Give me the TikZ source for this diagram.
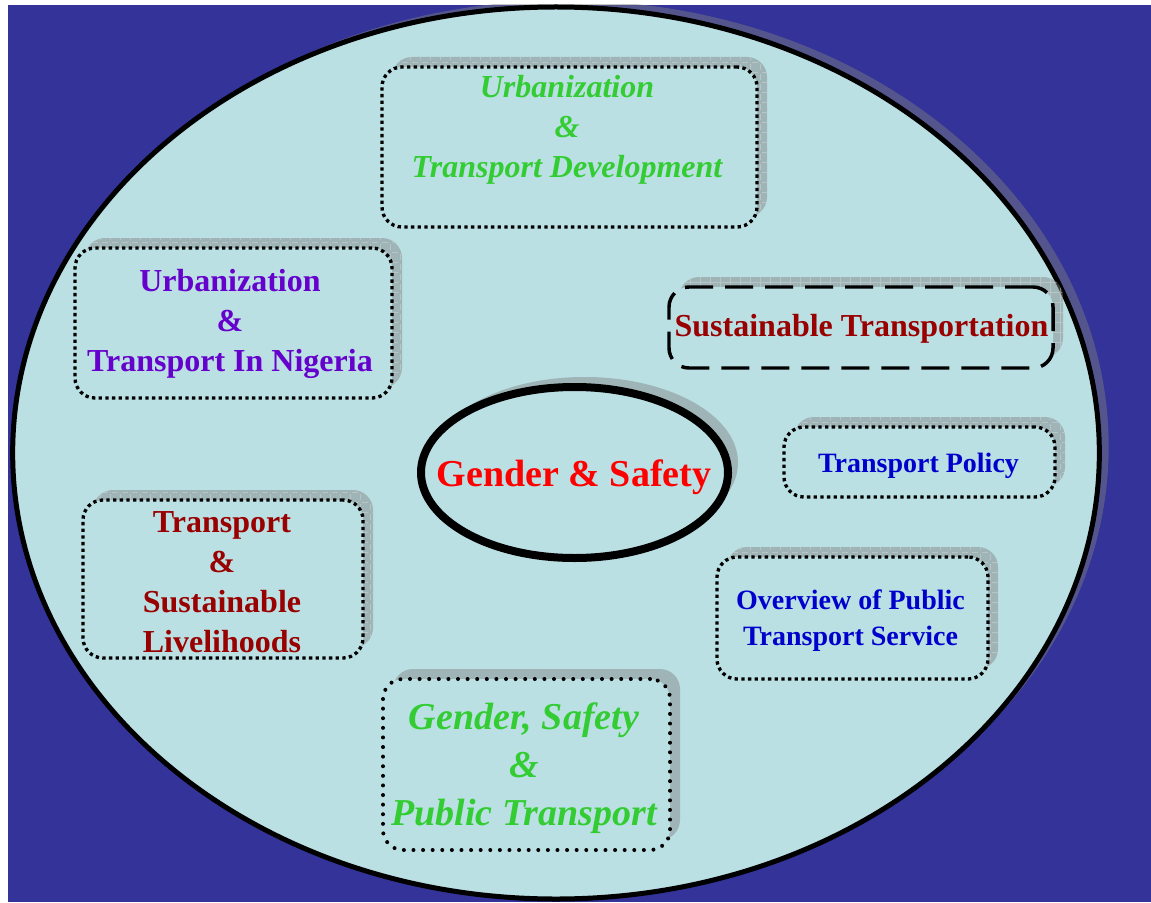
\documentclass[tikz,border=0pt]{standalone}
\usepackage{fontspec}
\setmainfont{Liberation Serif}
\usetikzlibrary{shapes.geometric,shadows,patterns.meta}

\definecolor{bgblue}{RGB}{51,51,153}
\definecolor{pale}{RGB}{186,224,228}
\definecolor{txtgreen}{RGB}{51,204,51}
\definecolor{txtpurple}{RGB}{102,0,204}
\definecolor{txtred}{RGB}{153,0,0}
\definecolor{txtblue}{RGB}{0,0,204}

\tikzset{
  boxshadow/.style={drop shadow={shadow xshift=7.5pt, shadow yshift=7.5pt, fill=gray, opacity=0.45,
      postaction={pattern={Hatch[distance=7.5pt, line width=0.3pt]}, pattern color=white!70!gray}}},
  topic/.style={draw, fill=pale, rounded corners=15pt, inner sep=0pt, line width=2.5pt,
      dash pattern=on 2.5pt off 2.5pt, boxshadow},
  beads/.style={topic, line width=3pt, line cap=round, dash pattern=on 0pt off 7.2pt},
  longdash/.style={topic, line width=2.6pt, dash pattern=on 21pt off 9pt},
  label/.style={align=center, font=\bfseries\fontsize{24}{30}\selectfont},
}

\begin{document}
\begin{tikzpicture}[x=0.75pt,y=0.75pt,yscale=-1,xscale=1]
\useasboundingbox (0,0) rectangle (1151,902);
\fill[white] (0,0) rectangle (1151,902);
\fill[bgblue] (8,5) rectangle (1151,902);

\begin{scope}
\clip (8,5) rectangle (1151,902);
%Shape: big ellipse
\node (world) [ellipse, draw, fill=pale, line width=3.75pt, inner sep=0pt, minimum width=815pt, minimum height=669pt,
  drop shadow={shadow xshift=7pt, shadow yshift=5pt, fill=gray, opacity=0.45}] at (556,453) {};
\end{scope}

%Shape: boxes round the centre
\node (urbdev) [topic, minimum width=281.25pt, minimum height=120pt] at (569.5,147) {};
\node (urbnig) [topic, minimum width=237.75pt, minimum height=112.5pt] at (233.5,323) {};
\node (sustr) [longdash, minimum width=288pt, minimum height=60.75pt] at (861,327.5) {};
\node (policy) [topic, minimum width=203.25pt, minimum height=52.5pt] at (919.5,462) {};
\node (pubserv) [topic, minimum width=203.25pt, minimum height=91.5pt] at (852.5,618) {};
\node (livelih) [topic, minimum width=210pt, minimum height=118.5pt] at (223,579) {};
\node (gsp) [beads, minimum width=215.25pt, minimum height=128.25pt] at (526.5,764.5) {};

%Shape: centre ellipse
\node (core) [ellipse, draw, fill=pale, line width=6pt, inner sep=0pt, minimum width=230.25pt, minimum height=128.25pt,
  drop shadow={shadow xshift=7.5pt, shadow yshift=7.5pt, fill=gray, opacity=0.45}] at (574.5,472.5) {};

% Text Node
\node (urbdevtxt) [label, text=txtgreen, font=\bfseries\itshape\fontsize{24}{30}\selectfont] at (567,130) {Urbanization\\\&\\Transport Development};
% Text Node
\node (urbnigtxt) [label, text=txtpurple] at (230,324) {Urbanization\\\&\\Transport In Nigeria};
% Text Node
\node (sustrtxt) [label, text=txtred] at (861.5,329) {Sustainable Transportation};
% Text Node
\node (coretxt) [label, text=red, font=\bfseries\fontsize{28.5}{34}\selectfont] at (574,477) {Gender \& Safety};
% Text Node
\node (policytxt) [label, text=txtblue, font=\bfseries\fontsize{21}{27}\selectfont] at (918.5,466) {Transport Policy};
% Text Node
\node (pubservtxt) [label, text=txtblue, font=\bfseries\fontsize{21}{27}\selectfont] at (850.5,621) {Overview of Public\\Transport Service};
% Text Node
\node (livelihtxt) [label, text=txtred] at (222,582) {Transport\\\&\\Sustainable\\Livelihoods};
% Text Node
\node (gsptxt) [label, text=txtgreen, font=\bfseries\itshape\fontsize{28.5}{36}\selectfont] at (524,768) {Gender, Safety\\\&\\Public Transport};

\end{tikzpicture}
\end{document}
